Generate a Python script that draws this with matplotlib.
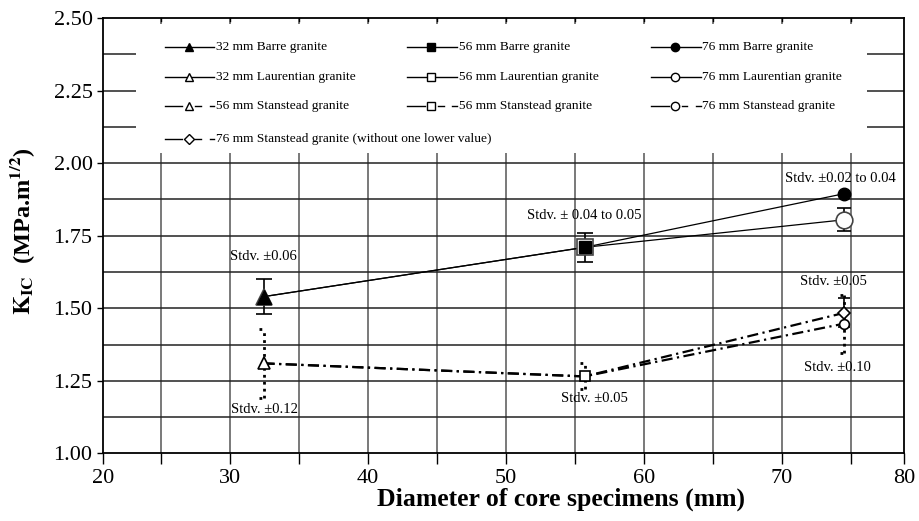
import matplotlib
matplotlib.use("Agg")
import matplotlib.pyplot as plt
import numpy as np
from matplotlib.lines import Line2D
from matplotlib.patches import Rectangle

plt.rcParams["font.family"] = ["Liberation Serif", "DejaVu Serif"]
plt.rcParams["mathtext.fontset"] = "stix"

# ── data ─────────────────────────────────────────────────────────────────────
diameters = [32.45, 55.7, 74.5]

barre_kic = [1.54, 1.71, 1.895]
barre_std = [0.06, 0.05, 0.02]

laurentian_kic = [1.54, 1.71, 1.805]
laurentian_std = [0.06, 0.05, 0.04]

stanstead_kic = [1.31, 1.265, 1.447]
stanstead_std = [0.12, 0.045, 0.10]

# 76 mm Stanstead recomputed without one lower value
stanstead_wo_kic = [1.31, 1.265, 1.484]
stanstead_wo_std = [0.05]

x_ticks = [20, 30, 40, 50, 60, 70, 80]
y_ticks = [1.00, 1.25, 1.50, 1.75, 2.00, 2.25, 2.50]

notes = ["Stdv. \u00b10.06", "Stdv. \u00b10.12", "Stdv. \u00b1 0.04 to 0.05",
         "Stdv. \u00b10.05", "Stdv. \u00b10.02 to 0.04", "Stdv. \u00b10.05",
         "Stdv. \u00b10.10"]
note_xy = [(32.45, 1.68), (32.55, 1.152), (55.7, 1.82), (56.4, 1.188),
           (74.2, 1.948), (73.7, 1.592), (74.0, 1.297)]

legend_labels = [
    ["32 mm Barre granite", "32 mm Laurentian granite",
     "56 mm Stanstead granite",
     "76 mm Stanstead granite (without one lower value)"],
    ["56 mm Barre granite", "56 mm Laurentian granite", "56 mm Stanstead granite"],
    ["76 mm Barre granite", "76 mm Laurentian granite", "76 mm Stanstead granite"],
]

MARKERS = ["^", "s", "o"]
DASHDOT = (0, (5, 2, 1, 2))

# the source figure's x axis is not evenly spaced: the first and last 5 mm
# are squeezed compared to the middle ones -> piecewise-linear scale
KNOT_X = [20, 25, 75, 80]
KNOT_U = [0.0, 57.7, 747.7, 801.0]


def fwd(x):
    return np.interp(x, KNOT_X, KNOT_U)


def inv(u):
    return np.interp(u, KNOT_U, KNOT_X)


fig = plt.figure(figsize=(9.19, 5.21), dpi=100)
ax = fig.add_axes([0.112, 0.130, 0.872, 0.835])
ax.set_xscale("function", functions=(fwd, inv))

ax.set_xlim(20, 80)
ax.set_ylim(1.0, 2.5)

# grid: every 5 mm and every 0.125 MPa.m^1/2
for gx in range(25, 80, 5):
    ax.axvline(gx, color="#555555", lw=1.1, zorder=0)
for i in range(1, 12):
    ax.axhline(1.0 + i * 0.125, color="#222222", lw=1.1, zorder=0)

# ── series ──────────────────────────────────────────────────────────────────
ax.plot(diameters, barre_kic, color="black", lw=0.9, zorder=3)
ax.plot(diameters, laurentian_kic, color="black", lw=0.9, zorder=3)
ax.plot(diameters, stanstead_kic, color="black", lw=1.6, ls=DASHDOT, zorder=3)
ax.plot(diameters, stanstead_wo_kic, color="black", lw=1.6, ls=DASHDOT, zorder=3)

# error bars
ax.errorbar(diameters[:2], barre_kic[:2], yerr=barre_std[:2], fmt="none",
            ecolor="black", elinewidth=1.2, capsize=6, capthick=1.2, zorder=4)
ax.errorbar(diameters[2:], laurentian_kic[2:], yerr=laurentian_std[2:], fmt="none",
            ecolor="black", elinewidth=1.2, capsize=5, capthick=1.2, zorder=4)
ax.errorbar(diameters[2:], stanstead_wo_kic[2:], yerr=stanstead_wo_std, fmt="none",
            ecolor="black", elinewidth=1.2, capsize=4, capthick=1.2, zorder=4)
for xv, yv, sv in zip(diameters, stanstead_kic, stanstead_std):
    ax.vlines(xv, yv - sv, yv + sv, colors="black", lw=2.0, ls=(0, (1, 1.5)), zorder=4)
    ax.hlines([yv - sv, yv + sv], xv - 0.3, xv + 0.3, colors="black", lw=2.0,
              ls=(0, (1, 2.5)), zorder=4)

# markers
big = [11, 12, 12]
filled = [10, 8, 9]
small = [9, 7, 7]
for k in range(3):
    ax.plot(diameters[k], laurentian_kic[k], marker=MARKERS[k], ms=big[k],
            mfc="white", mec="#444444", mew=1.2, zorder=5)
    ax.plot(diameters[k], barre_kic[k], marker=MARKERS[k], ms=filled[k],
            mfc="black", mec="black", zorder=6)
    ax.plot(diameters[k], stanstead_kic[k], marker=MARKERS[k], ms=small[k],
            mfc="white", mec="black", mew=1.2, zorder=6)
ax.plot(diameters[2], stanstead_wo_kic[2], marker="D", ms=6.5,
        mfc="white", mec="black", mew=1.2, zorder=6)

for txt, (tx, ty) in zip(notes, note_xy):
    ax.text(tx, ty, txt, ha="center", va="center", fontsize=10.5, zorder=7)

# ── axes styling ────────────────────────────────────────────────────────────
ax.set_xticks(x_ticks)
ax.set_xticks(range(25, 80, 10), minor=True)
ax.set_xticklabels([str(v) for v in x_ticks])
ax.set_yticks(y_ticks)
ax.set_yticklabels([f"{v:.2f}" for v in y_ticks])
ax.tick_params(axis="x", which="both", direction="out", length=8, width=1,
               labelsize=16, top=False)
ax.tick_params(axis="y", which="major", direction="out", length=4, width=1,
               labelsize=16)
for s in ax.spines.values():
    s.set_linewidth(1.3)
# small inward marks on top spine
for gx in range(25, 80, 5):
    ax.plot([gx, gx], [2.5, 2.49], color="black", lw=1, zorder=9, clip_on=False)

ax.set_xlabel("Diameter of core specimens (mm)", fontsize=18.5, fontweight="bold")
ax.xaxis.set_label_coords(0.572, -0.078)
ax.set_ylabel(r"$\mathbf{K_{IC}}$  (MPa.m$^{\mathbf{1/2}}$)", fontsize=17.5,
              fontweight="bold")
ax.yaxis.set_label_coords(-0.082, 0.51)

# ── hand-built legend box ───────────────────────────────────────────────────
ax.add_patch(Rectangle((0.041, 0.69), 0.912, 0.297, transform=ax.transAxes,
                       facecolor="white", edgecolor="none", zorder=8))
col_x = [0.077, 0.380, 0.684]
row_y = [0.934, 0.866, 0.798, 0.723]
hl = 0.062
styles = [
    [("^", "black", "-"), ("^", "white", "-"), ("^", "white", "dd"), ("D", "white", "dd")],
    [("s", "black", "-"), ("s", "white", "-"), ("s", "white", "dd")],
    [("o", "black", "-"), ("o", "white", "-"), ("o", "white", "dd")],
]
for c, col in enumerate(legend_labels):
    for r, lab in enumerate(col):
        mk, fc, ls = styles[c][r]
        x0 = col_x[c]
        y0 = row_y[r]
        if ls == "-":
            ax.add_line(Line2D([x0, x0 + hl], [y0, y0], transform=ax.transAxes,
                               color="black", lw=1.0, zorder=9))
        else:
            ax.add_line(Line2D([x0, x0 + 0.022], [y0, y0], transform=ax.transAxes,
                               color="black", lw=1.0, zorder=9))
            ax.add_line(Line2D([x0 + 0.038, x0 + 0.045], [y0, y0],
                               transform=ax.transAxes, color="black", lw=1.0, zorder=9))
            ax.add_line(Line2D([x0 + 0.056, x0 + 0.062], [y0, y0],
                               transform=ax.transAxes, color="black", lw=1.0, zorder=9))
        ms = 5 if mk == "D" else 6
        ax.add_line(Line2D([x0 + hl / 2 - 0.001], [y0], transform=ax.transAxes,
                           marker=mk, ms=ms, mfc=fc, mec="black", mew=1.0,
                           ls="none", zorder=10))
        ax.text(x0 + hl + 0.002, y0, lab, transform=ax.transAxes, ha="left",
                va="center", fontsize=9.6, zorder=10)

fig.savefig("out.png", dpi=100)
